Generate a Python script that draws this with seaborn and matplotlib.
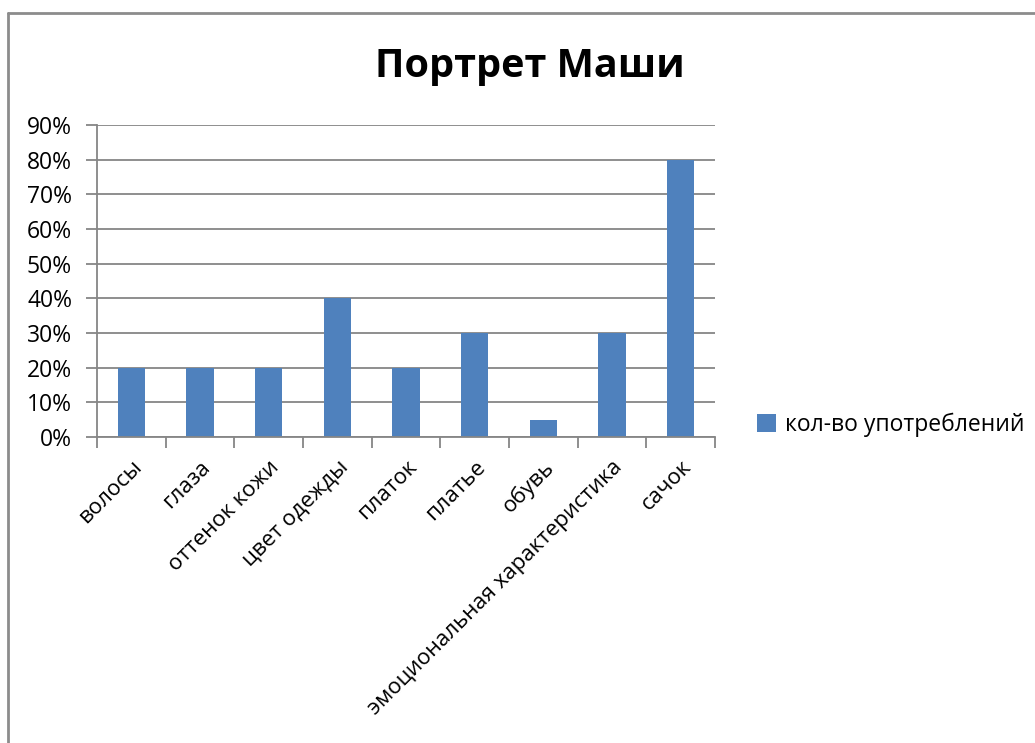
import matplotlib
matplotlib.use("Agg")
import matplotlib.pyplot as plt
from matplotlib.lines import Line2D
from matplotlib.ticker import PercentFormatter, MultipleLocator
import seaborn as sns
import pandas as pd

categories = ["волосы", "глаза", "оттенок кожи", "цвет одежды", "платок",
              "платье", "обувь", "эмоциональная характеристика", "сачок"]
values = [20, 20, 20, 40, 20, 30, 5, 30, 80]
series_name = "кол-во употреблений"
title = "Портрет Маши"

df = pd.DataFrame({"category": categories, "value": values, "series": series_name})

sns.set_style("white")
plt.rcParams["font.family"] = ["Open Sans", "DejaVu Sans"]
plt.rcParams["text.color"] = "black"
plt.rcParams["xtick.color"] = "black"
plt.rcParams["ytick.color"] = "black"

fig = plt.figure(figsize=(10.35, 7.43), dpi=100)
ax = fig.add_axes([97 / 1035, 1 - 437 / 743, (715 - 97) / 1035, (437 - 125) / 743])

sns.barplot(data=df, x="category", y="value", hue="series", palette=["#4f81bd"],
            width=0.4, ax=ax, saturation=1, linewidth=0)

grid_c = "#868686"
ax.set_ylim(0, 90)
ax.set_xlim(-0.5, len(categories) - 0.5)
ax.yaxis.set_major_locator(MultipleLocator(10))
ax.yaxis.set_major_formatter(PercentFormatter(decimals=0))
ax.yaxis.grid(True, color=grid_c, linewidth=1.3)
ax.set_axisbelow(True)
for side in ["top", "right"]:
    ax.spines[side].set_visible(False)
for side in ["left", "bottom"]:
    ax.spines[side].set_color(grid_c)
    ax.spines[side].set_linewidth(1.3)

# category boundary ticks on the x axis
ax.set_xticks([i - 0.5 for i in range(len(categories) + 1)], minor=True)
ax.set_xticks(range(len(categories)))
ax.set_xticklabels(categories, rotation=45, ha="right", rotation_mode="anchor", fontsize=16)
ax.tick_params(axis="x", which="major", length=0, pad=14)
ax.tick_params(axis="x", which="minor", length=8, width=1.3, color=grid_c, bottom=True)
ax.tick_params(axis="y", length=8, width=1.3, color=grid_c, labelcolor="black",
               labelsize=16.5, left=True, pad=10)
ax.set_xlabel("")
ax.set_ylabel("")

leg = ax.legend(loc="center left", bbox_to_anchor=(1.035, 0.04), frameon=False,
                fontsize=16.5, handlelength=0.8, handleheight=0.8, handletextpad=0.4)

fig.text(530 / 1035, 1 - 67 / 743, title, ha="center", va="center",
         fontsize=28.5, fontweight="bold", color="black")

# chart area border
fig.add_artist(Line2D([8 / 1035, 8 / 1035], [0, 1 - 13 / 743], color="#8c8c8c", lw=2))
fig.add_artist(Line2D([8 / 1035, 1], [1 - 13 / 743, 1 - 13 / 743], color="#8c8c8c", lw=2))

fig.savefig("out.png", dpi=100)
